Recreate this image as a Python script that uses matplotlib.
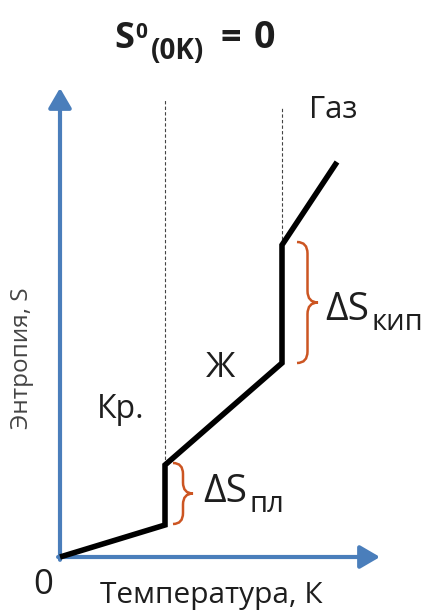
import matplotlib
matplotlib.use('Agg')
import matplotlib.pyplot as plt
from matplotlib.path import Path
from matplotlib.patches import PathPatch

plt.rcParams['font.family'] = ['Open Sans', 'DejaVu Sans']

# entropy vs temperature (arbitrary units)
T_pts = [0, 105, 105, 222, 222, 277]
S_pts = [0, 32, 92, 194, 312, 395]
dash_tops = [457, 450]   # where the dashed phase boundaries end
phase_labels = ['Кр.', 'Ж', 'Газ']
jump_subs = ['пл', 'кип']

BLUE = '#4a7ebb'
ORANGE = '#cc5522'
TXT = '#1e1e1e'


def brace(ax, x0, y0, y1, w, **kw):
    # right-pointing curly brace "}" from y0 to y1
    xm = x0 + w / 2
    ym = (y0 + y1) / 2
    r = min(w * 0.55, (y1 - y0) / 4)
    verts = [(x0, y0), (xm, y0), (xm, y0 + r),
             (xm, ym - r), (xm, ym), (x0 + w, ym),
             (xm, ym), (xm, ym + r),
             (xm, y1 - r), (xm, y1), (x0, y1)]
    codes = [Path.MOVETO, Path.CURVE3, Path.CURVE3,
             Path.LINETO, Path.CURVE3, Path.CURVE3,
             Path.CURVE3, Path.CURVE3,
             Path.LINETO, Path.CURVE3, Path.CURVE3]
    ax.add_patch(PathPatch(Path(verts, codes), fill=False, **kw))


def delta_s(ax, x, y, sub):
    t = ax.text(x, y, 'ΔS', fontsize=28, color=TXT, va='baseline')
    ax.annotate(sub, xy=(1, 0), xycoords=t, xytext=(2, -5.5),
                textcoords='offset points', fontsize=21, color=TXT,
                va='bottom', ha='left', annotation_clip=False)


def px(x, y):
    return x / 441, 1 - y / 610


fig = plt.figure(figsize=(4.41, 6.10), dpi=100)
ax = fig.add_axes([60 / 441, 53 / 610, 320 / 441, 469 / 610])
ax.set_xlim(0, 320)
ax.set_ylim(0, 469)
ax.axis('off')

# axes arrows
arrow = dict(arrowstyle='-|>,head_length=0.6,head_width=0.35', color=BLUE,
             lw=3, mutation_scale=20, shrinkA=0, shrinkB=0)
ax.annotate('', xy=(0, 1), xytext=(0, -0.006), xycoords='axes fraction', arrowprops=arrow)
ax.annotate('', xy=(1, 0), xytext=(-0.006, 0), xycoords='axes fraction', arrowprops=arrow)

# phase boundaries
Tm, Tb = T_pts[1], T_pts[3]
ax.plot([Tm, Tm], [S_pts[2], dash_tops[0]], color='#444444', lw=0.8,
        dashes=(3, 2), clip_on=False)
ax.plot([Tb, Tb], [S_pts[4], dash_tops[1]], color='#444444', lw=0.8,
        dashes=(3, 2), clip_on=False)

# S(T)
ax.plot(T_pts, S_pts, color='black', lw=4, solid_joinstyle='miter',
        solid_capstyle='butt', clip_on=False, zorder=3)

# braces for the jumps
brace(ax, Tm + 8, S_pts[1] + 1, S_pts[2] + 2, 20, color=ORANGE, lw=1.8)
brace(ax, Tb + 15, S_pts[3], S_pts[4] + 3, 21, color=ORANGE, lw=1.8)

delta_s(ax, Tm + 38, 55, jump_subs[0])
delta_s(ax, Tb + 43, 237, jump_subs[1])

ax.text(37, 139, phase_labels[0], fontsize=23, color=TXT, va='baseline')
ax.text(146, 180, phase_labels[1], fontsize=25, color=TXT, va='baseline')
ax.text(249, 439, phase_labels[2], fontsize=22.5, color=TXT, va='baseline')

ax.text(-17, -28, '0', fontsize=25, color=TXT, ha='center', va='center')
ax.text(151, -46, 'Температура, К', fontsize=21.5, color=TXT, ha='center',
        va='baseline')
ax.text(-0.119, 0.424, 'Энтропия, S', fontsize=17.5, color='#444444',
        rotation=90, ha='center', va='center', transform=ax.transAxes)

# title: S^0_(0K) = 0
bold = dict(color=TXT, fontweight='bold', va='baseline', ha='left')
fig.text(*px(114, 48), 'S', fontsize=26, **bold)
fig.text(*px(135, 38), '0', fontsize=15, **bold)
fig.text(*px(151, 59), '(0K)', fontsize=20, **bold)
fig.text(*px(220, 48), '=', fontsize=26, **bold)
fig.text(*px(254, 48), '0', fontsize=27, **bold)

fig.savefig('out.png', dpi=100)
